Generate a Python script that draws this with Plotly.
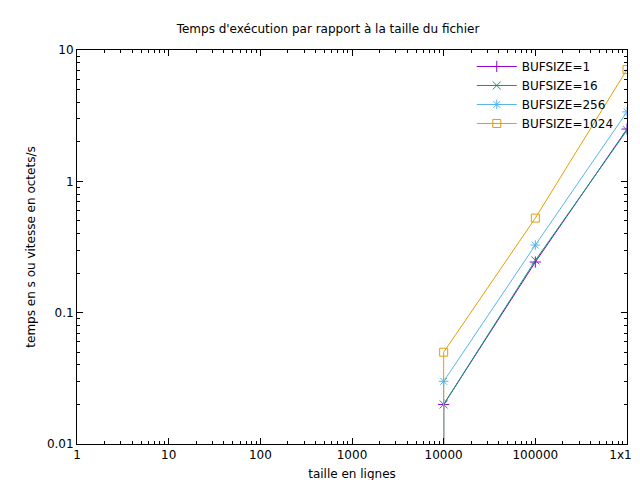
import plotly.graph_objects as go

# file sizes (lines) and times for each buffer size
sizes = [10000, 10000, 100000, 1000000]
t_buf1 = [0.001, 0.02, 0.243, 2.5]
t_buf16 = [0.001, 0.02, 0.25, 2.45]
t_buf256 = [0.001, 0.030, 0.327, 3.38]
t_buf1024 = [0.001, 0.050, 0.525, 7.1]

series = [
    ("BUFSIZE=1", t_buf1, "#9400d3", "cross-thin"),
    ("BUFSIZE=16", t_buf16, "#009e73", "x-thin"),
    ("BUFSIZE=256", t_buf256, "#56b4e9", "asterisk"),
    ("BUFSIZE=1024", t_buf1024, "#e69f00", "square-open"),
]

fig = go.Figure()
for name, ys, color, sym in series:
    fig.add_trace(go.Scatter(
        x=sizes, y=ys, name=name, mode="lines+markers",
        line=dict(color=color, width=1),
        marker=dict(symbol=sym, size=8, color=color, line=dict(color=color, width=1)),
    ))

axis_common = dict(
    type="log", showgrid=False, zeroline=False, showline=True, linecolor="black",
    linewidth=1, mirror="ticks", ticks="inside", ticklen=6, tickcolor="black",
    minor=dict(ticks="inside", ticklen=3, tickcolor="black", dtick="D1", showgrid=False),
    tickfont=dict(family="DejaVu Sans", size=12, color="black"),
    automargin=False,
)

fig.update_layout(
    width=640, height=480,
    paper_bgcolor="white", plot_bgcolor="white",
    margin=dict(l=69, r=21, t=42, b=44),
    title=dict(text="Temps d'exécution par rapport à la taille du fichier",
               x=0.5, y=0.965, xanchor="center",
               font=dict(family="DejaVu Sans", size=12, color="black")),
    font=dict(family="DejaVu Sans", size=12, color="black"),
    showlegend=True,
    legend=dict(x=0.985, y=0.995, xanchor="right", yanchor="top",
                bgcolor="rgba(0,0,0,0)", font=dict(size=12),
                tracegroupgap=0, itemwidth=40),
)
fig.update_xaxes(
    **axis_common, range=[0, 6],
    tickvals=[1, 10, 100, 1000, 10000, 100000, 1000000],
    ticktext=["1", "10", "100", "1000", "10000", "100000", "1x10<sup>6</sup>"],
    title=dict(text="taille en lignes", font=dict(size=12), standoff=8),
)
fig.update_yaxes(
    **axis_common, range=[-2, 1],
    tickvals=[0.01, 0.1, 1, 10],
    ticktext=["0.01", "0.1", "1", "10"],
    title=dict(text="temps en s ou vitesse en octets/s", font=dict(size=12), standoff=8),
)

fig.write_html("out.html")
